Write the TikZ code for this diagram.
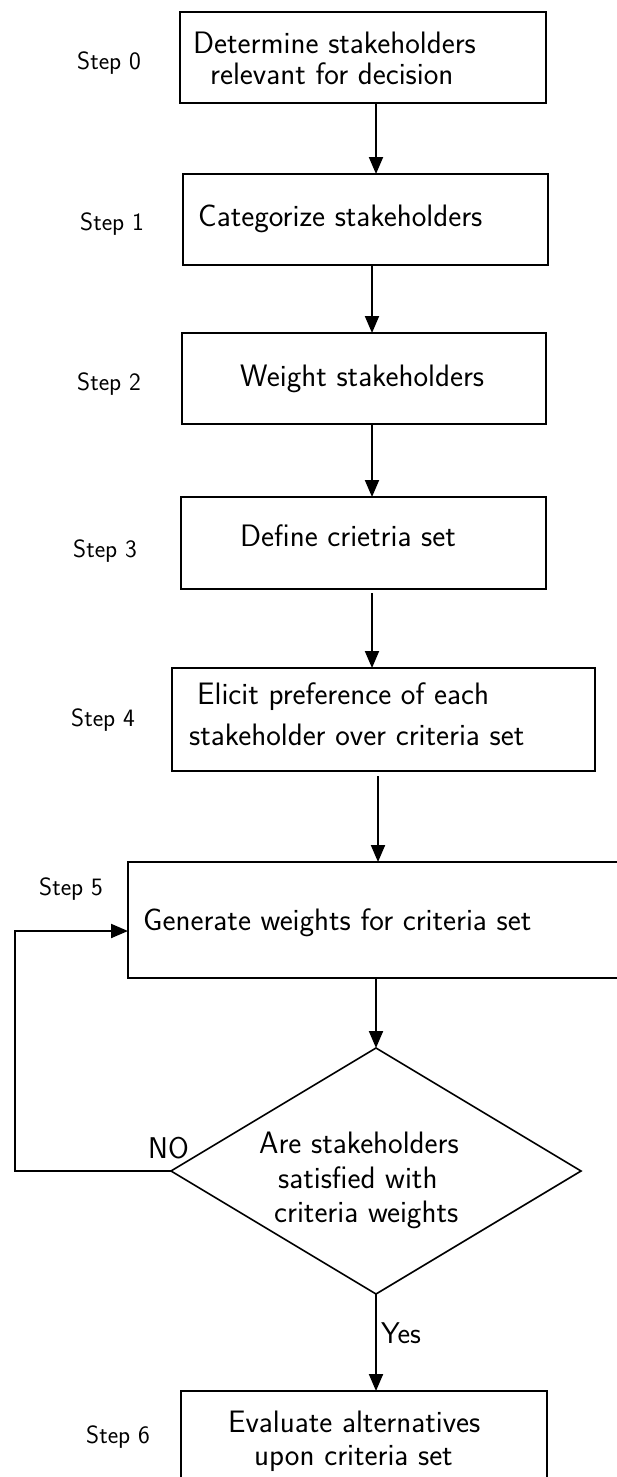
\documentclass[tikz,border=0pt]{standalone}
\usetikzlibrary{arrows.meta,shapes.geometric}
\begin{document}
\begin{tikzpicture}[x=1pt,y=-1pt,
  box/.style={draw, line width=2pt, inner sep=0pt, outer sep=0pt},
  txt/.style={inner sep=0pt, anchor=base west, font=\sffamily\fontsize{31}{36}\selectfont},
  steplbl/.style={inner sep=0pt, anchor=base west, font=\sffamily\fontsize{25}{30}\selectfont},
  ynlbl/.style={inner sep=0pt, anchor=base west, font=\sffamily\fontsize{30}{35}\selectfont},
  arr/.style={line width=2pt, -{Triangle[length=17pt,width=14pt]}},
  dec/.style={draw, diamond, line width=1.6pt, inner sep=0pt, outer sep=0pt, minimum width=410pt, minimum height=246pt}]
\useasboundingbox (0,0) rectangle (617,1477);
\clip (0,0) rectangle (617,1477);

% boxes
\node[box, minimum width=366pt, minimum height=91pt] (b0) at (363,57.5) {};
\node[box, minimum width=365pt, minimum height=91pt] (b1) at (365.5,219.5) {};
\node[box, minimum width=364pt, minimum height=91pt] (b2) at (364,378.5) {};
\node[box, minimum width=365pt, minimum height=92pt] (b3) at (363.5,543) {};
\node[box, minimum width=423pt, minimum height=103pt] (b4) at (383.5,719.5) {};
\node[box, minimum width=522pt, minimum height=116pt] (b5) at (389,920) {};
\node[dec] (dia) at (376,1171) {};
\node[box, minimum width=366pt, minimum height=119pt] (b6) at (364,1450.5) {};

% box texts
\node[txt] (t0a) at (193,54) {Determine stakeholders};
\node[txt] (t0b) at (210,85) {relevant for decision};
\node[txt] (t1) at (198,226) {Categorize stakeholders};
\node[txt] (t2) at (240,386) {Weight stakeholders};
\node[txt] (t3) at (240,546) {Define crietria set};
\node[txt] (t4a) at (197,704) {Elicit preference of each};
\node[txt] (t4b) at (189,745) {stakeholder over criteria set};
\node[txt] (t5) at (143,930) {Generate weights for criteria set};
\node[txt] (tda) at (259,1153) {Are stakeholders};
\node[txt] (tdb) at (278,1188) {satisfied with};
\node[txt] (tdc) at (274,1222) {criteria weights};
\node[txt] (t6a) at (228,1432) {Evaluate alternatives};
\node[txt] (t6b) at (254,1465) {upon criteria set};

% step labels
\node[steplbl] (s0) at (77,70) {Step 0};
\node[steplbl] (s1) at (80,230) {Step 1};
\node[steplbl] (s2) at (77,390) {Step 2};
\node[steplbl] (s3) at (73,557) {Step 3};
\node[steplbl] (s4) at (71,726) {Step 4};
\node[steplbl] (s5) at (39,895) {Step 5};
\node[steplbl] (s6) at (86,1443) {Step 6};

% yes / no
\node[ynlbl] (no) at (148,1158) {NO};
\node[ynlbl] (yes) at (381,1343) {Yes};

% connectors
\coordinate (x0) at (376,0);
\coordinate (x1) at (372,0);
\coordinate (x4) at (378,0);
\draw[arr] (b0.south -| x0) -- (b1.north -| x0);
\draw[arr] (b1.south -| x1) -- (b2.north -| x1);
\draw[arr] (b2.south -| x1) -- (b3.north -| x1);
\draw[arr] ([yshift=-4pt]b3.south -| x1) -- (b4.north -| x1);
\draw[arr] ([yshift=-5pt]b4.south -| x4) -- (b5.north -| x4);
\draw[arr] (b5.south -| dia.north) -- (dia.north);
\draw[arr] (dia.south) -- (b6.north -| dia.south);
\coordinate (lp) at (15,931);
\draw[arr] (dia.west) -| (lp) -- (lp -| b5.west);
\end{tikzpicture}
\end{document}
